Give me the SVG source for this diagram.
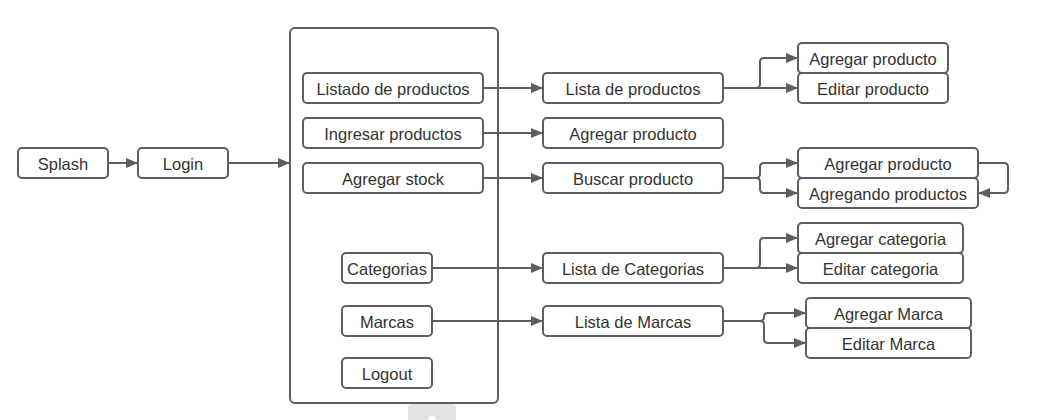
<svg xmlns="http://www.w3.org/2000/svg" width="1041" height="420" viewBox="0 0 1041 420">
<defs>
<style>
.n rect{fill:#fff;stroke:#5e5e5e;stroke-width:2}
.n text{font-family:"Liberation Sans",Arial,sans-serif;font-size:16.5px;fill:#333;text-anchor:middle;dominant-baseline:central}
.c path{fill:none;stroke:#5e5e5e;stroke-width:2;marker-end:url(#ah)}
</style>
<marker id="ah" viewBox="0 0 12 10" refX="11" refY="5" markerWidth="12" markerHeight="10" markerUnits="userSpaceOnUse" orient="auto">
<path d="M0,0 L12,5 L0,10 Z" fill="#5e5e5e"/>
</marker>
</defs>
<rect width="1041" height="420" fill="#fff"/>
<rect x="408" y="403" width="48" height="24" rx="5" fill="#e2e2e2"/>
<circle cx="432" cy="420" r="4" fill="#fff"/>
<g class="n" id="menu"><rect x="290" y="28" width="208" height="375" rx="5"/></g>
<g class="n" id="splash"><rect x="18" y="148" width="90" height="30" rx="4"/><text x="63" y="164">Splash</text></g>
<g class="n" id="login"><rect x="138" y="148" width="90" height="30" rx="4"/><text x="183" y="164">Login</text></g>
<g class="n" id="listado"><rect x="303" y="73" width="180" height="30" rx="4"/><text x="393" y="89">Listado de productos</text></g>
<g class="n" id="ingresar"><rect x="303" y="118" width="180" height="30" rx="4"/><text x="393" y="134">Ingresar productos</text></g>
<g class="n" id="agregarstock"><rect x="303" y="163" width="180" height="30" rx="4"/><text x="393" y="179">Agregar stock</text></g>
<g class="n" id="categorias"><rect x="342" y="253" width="90" height="30" rx="4"/><text x="387" y="269">Categorias</text></g>
<g class="n" id="marcas"><rect x="342" y="306" width="90" height="30" rx="4"/><text x="387" y="322">Marcas</text></g>
<g class="n" id="logout"><rect x="342" y="358" width="90" height="30" rx="4"/><text x="387" y="374">Logout</text></g>
<g class="n" id="listaprod"><rect x="543" y="73" width="180" height="30" rx="4"/><text x="633" y="89">Lista de productos</text></g>
<g class="n" id="agregarprod1"><rect x="543" y="118" width="180" height="30" rx="4"/><text x="633" y="134">Agregar producto</text></g>
<g class="n" id="buscar"><rect x="543" y="163" width="180" height="30" rx="4"/><text x="633" y="179">Buscar producto</text></g>
<g class="n" id="listacat"><rect x="543" y="253" width="180" height="30" rx="4"/><text x="633" y="269">Lista de Categorias</text></g>
<g class="n" id="listamarcas"><rect x="543" y="306" width="180" height="30" rx="4"/><text x="633" y="322">Lista de Marcas</text></g>
<g class="n" id="agregarprod2"><rect x="798" y="43" width="150" height="30" rx="4"/><text x="873" y="59">Agregar producto</text></g>
<g class="n" id="editarprod"><rect x="798" y="73" width="150" height="30" rx="4"/><text x="873" y="89">Editar producto</text></g>
<g class="n" id="agregarprod3"><rect x="798" y="148" width="180" height="30" rx="4"/><text x="888" y="164">Agregar producto</text></g>
<g class="n" id="agregando"><rect x="798" y="178" width="180" height="30" rx="4"/><text x="888" y="194">Agregando productos</text></g>
<g class="n" id="agregarcat"><rect x="798" y="223" width="165" height="30" rx="4"/><text x="880.5" y="239">Agregar categoria</text></g>
<g class="n" id="editarcat"><rect x="798" y="253" width="165" height="30" rx="4"/><text x="880.5" y="269">Editar categoria</text></g>
<g class="n" id="agregarmarca"><rect x="806" y="298" width="165" height="30" rx="4"/><text x="888.5" y="314">Agregar Marca</text></g>
<g class="n" id="editarmarca"><rect x="806" y="328" width="165" height="30" rx="4"/><text x="888.5" y="344">Editar Marca</text></g>
<g class="c" id="connectors">
<path d="M108,163 H137"/>
<path d="M228,163 H289"/>
<path d="M483,88 H542"/>
<path d="M483,133 H542"/>
<path d="M483,178 H542"/>
<path d="M432,268 H542"/>
<path d="M432,321 H542"/>
<path d="M723,88 H797"/>
<path d="M723,88 H756 Q760,88 760,84 V62 Q760,58 764,58 H797"/>
<path d="M723,178 H756 Q760,178 760,174 V167 Q760,163 764,163 H797"/>
<path d="M756,178 Q760,178 760,182 V189 Q760,193 764,193 H797"/>
<path d="M978,163 H1004 Q1008,163 1008,167 V189 Q1008,193 1004,193 H979"/>
<path d="M723,268 H797"/>
<path d="M723,268 H756 Q760,268 760,264 V242 Q760,238 764,238 H797"/>
<path d="M723,321 H760 Q764,321 764,317 V317 Q764,313 768,313 H805"/>
<path d="M760,321 Q764,321 764,325 V339 Q764,343 768,343 H805"/>
</g>
</svg>
